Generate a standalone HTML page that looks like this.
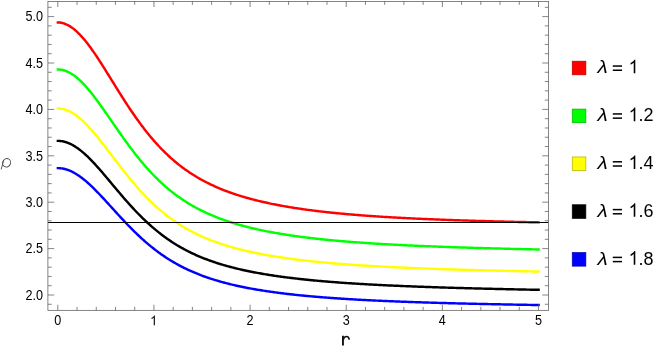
<!DOCTYPE html><html><head><meta charset="utf-8"><style>html,body{margin:0;padding:0;background:#fff;}body{width:654px;height:347px;overflow:hidden;font-family:"Liberation Sans",sans-serif;}svg{display:block;will-change:transform;}text{font-family:"Liberation Sans",sans-serif;}</style></head><body>
<svg width="654" height="347" viewBox="0 0 654 347">
<rect width="654" height="347" fill="#fff"/>
<path d="M56.65,22.43 L57.65,22.43 L58.85,22.46 L60.06,22.58 L61.26,22.77 L62.46,23.03 L63.66,23.36 L64.87,23.77 L66.07,24.26 L67.27,24.81 L68.47,25.44 L69.68,26.13 L70.88,26.89 L72.08,27.72 L73.28,28.62 L74.49,29.58 L75.69,30.60 L76.89,31.69 L78.09,32.83 L79.30,34.03 L80.50,35.29 L81.70,36.60 L82.91,37.96 L84.11,39.37 L85.31,40.82 L86.51,42.32 L87.72,43.87 L88.92,45.45 L90.12,47.07 L91.32,48.73 L92.53,50.42 L93.73,52.15 L94.93,53.90 L96.13,55.68 L97.34,57.48 L98.54,59.31 L99.74,61.15 L100.94,63.02 L102.15,64.90 L103.35,66.80 L104.55,68.71 L105.75,70.63 L106.96,72.55 L108.16,74.49 L109.36,76.43 L110.57,78.37 L111.77,80.31 L112.97,82.26 L114.17,84.20 L115.38,86.14 L116.58,88.07 L117.78,90.00 L118.98,91.92 L120.19,93.83 L121.39,95.74 L122.59,97.63 L123.79,99.51 L125.00,101.38 L126.20,103.23 L127.40,105.07 L128.60,106.89 L129.81,108.70 L131.01,110.49 L132.21,112.27 L133.42,114.02 L134.62,115.75 L135.82,117.47 L137.02,119.17 L138.23,120.84 L139.43,122.50 L140.63,124.13 L141.83,125.74 L143.04,127.34 L144.24,128.91 L145.44,130.45 L146.64,131.98 L147.85,133.48 L149.05,134.96 L150.25,136.42 L151.45,137.85 L152.66,139.27 L153.86,140.66 L155.06,142.02 L156.27,143.37 L157.47,144.69 L158.67,145.99 L159.87,147.27 L161.08,148.53 L162.28,149.77 L163.48,150.98 L164.68,152.17 L165.89,153.34 L167.09,154.49 L168.29,155.62 L169.49,156.73 L170.70,157.82 L171.90,158.89 L173.10,159.94 L174.30,160.97 L175.51,161.98 L176.71,162.98 L177.91,163.95 L179.12,164.90 L180.32,165.84 L181.52,166.76 L182.72,167.66 L183.93,168.55 L185.13,169.42 L186.33,170.27 L187.53,171.10 L188.74,171.92 L189.94,172.73 L191.14,173.52 L192.34,174.29 L193.55,175.05 L194.75,175.80 L195.95,176.53 L197.15,177.24 L198.36,177.95 L199.56,178.64 L200.76,179.32 L201.97,179.98 L203.17,180.63 L204.37,181.27 L205.57,181.90 L206.78,182.52 L207.98,183.12 L209.18,183.72 L210.38,184.30 L211.59,184.87 L212.79,185.43 L213.99,185.98 L215.19,186.52 L216.40,187.06 L217.60,187.58 L218.80,188.09 L220.00,188.59 L221.21,189.09 L222.41,189.57 L223.61,190.05 L224.81,190.52 L226.02,190.98 L227.22,191.43 L228.42,191.88 L229.63,192.32 L230.83,192.75 L232.03,193.17 L233.23,193.58 L234.44,193.99 L235.64,194.39 L236.84,194.79 L238.04,195.17 L239.25,195.55 L240.45,195.93 L241.65,196.30 L242.85,196.66 L244.06,197.02 L245.26,197.37 L246.46,197.71 L247.66,198.05 L248.87,198.39 L250.07,198.72 L251.27,199.04 L252.48,199.36 L253.68,199.67 L254.88,199.98 L256.08,200.28 L257.29,200.58 L258.49,200.88 L259.69,201.17 L260.89,201.45 L262.10,201.73 L263.30,202.01 L264.50,202.28 L265.70,202.55 L266.91,202.81 L268.11,203.07 L269.31,203.33 L270.51,203.58 L271.72,203.83 L272.92,204.08 L274.12,204.32 L275.33,204.55 L276.53,204.79 L277.73,205.02 L278.93,205.25 L280.14,205.47 L281.34,205.69 L282.54,205.91 L283.74,206.12 L284.95,206.34 L286.15,206.54 L287.35,206.75 L288.55,206.95 L289.76,207.15 L290.96,207.35 L292.16,207.54 L293.36,207.74 L294.57,207.92 L295.77,208.11 L296.97,208.29 L298.17,208.48 L299.38,208.65 L300.58,208.83 L301.78,209.00 L302.99,209.18 L304.19,209.34 L305.39,209.51 L306.59,209.68 L307.80,209.84 L309.00,210.00 L310.20,210.16 L311.40,210.31 L312.61,210.47 L313.81,210.62 L315.01,210.77 L316.21,210.92 L317.42,211.06 L318.62,211.21 L319.82,211.35 L321.02,211.49 L322.23,211.63 L323.43,211.76 L324.63,211.90 L325.84,212.03 L327.04,212.16 L328.24,212.29 L329.44,212.42 L330.65,212.55 L331.85,212.67 L333.05,212.80 L334.25,212.92 L335.46,213.04 L336.66,213.16 L337.86,213.28 L339.06,213.39 L340.27,213.51 L341.47,213.62 L342.67,213.73 L343.87,213.84 L345.08,213.95 L346.28,214.06 L347.48,214.17 L348.69,214.27 L349.89,214.38 L351.09,214.48 L352.29,214.58 L353.50,214.68 L354.70,214.78 L355.90,214.88 L357.10,214.97 L358.31,215.07 L359.51,215.16 L360.71,215.26 L361.91,215.35 L363.12,215.44 L364.32,215.53 L365.52,215.62 L366.72,215.71 L367.93,215.80 L369.13,215.88 L370.33,215.97 L371.54,216.05 L372.74,216.14 L373.94,216.22 L375.14,216.30 L376.35,216.38 L377.55,216.46 L378.75,216.54 L379.95,216.62 L381.16,216.69 L382.36,216.77 L383.56,216.85 L384.76,216.92 L385.97,216.99 L387.17,217.07 L388.37,217.14 L389.57,217.21 L390.78,217.28 L391.98,217.35 L393.18,217.42 L394.38,217.49 L395.59,217.56 L396.79,217.62 L397.99,217.69 L399.20,217.75 L400.40,217.82 L401.60,217.88 L402.80,217.95 L404.01,218.01 L405.21,218.07 L406.41,218.13 L407.61,218.19 L408.82,218.25 L410.02,218.31 L411.22,218.37 L412.42,218.43 L413.63,218.49 L414.83,218.55 L416.03,218.60 L417.23,218.66 L418.44,218.71 L419.64,218.77 L420.84,218.82 L422.05,218.88 L423.25,218.93 L424.45,218.98 L425.65,219.04 L426.86,219.09 L428.06,219.14 L429.26,219.19 L430.46,219.24 L431.67,219.29 L432.87,219.34 L434.07,219.39 L435.27,219.44 L436.48,219.49 L437.68,219.53 L438.88,219.58 L440.08,219.63 L441.29,219.67 L442.49,219.72 L443.69,219.77 L444.90,219.81 L446.10,219.85 L447.30,219.90 L448.50,219.94 L449.71,219.99 L450.91,220.03 L452.11,220.07 L453.31,220.11 L454.52,220.16 L455.72,220.20 L456.92,220.24 L458.12,220.28 L459.33,220.32 L460.53,220.36 L461.73,220.40 L462.93,220.44 L464.14,220.48 L465.34,220.51 L466.54,220.55 L467.75,220.59 L468.95,220.63 L470.15,220.67 L471.35,220.70 L472.56,220.74 L473.76,220.78 L474.96,220.81 L476.16,220.85 L477.37,220.88 L478.57,220.92 L479.77,220.95 L480.97,220.99 L482.18,221.02 L483.38,221.06 L484.58,221.09 L485.78,221.12 L486.99,221.16 L488.19,221.19 L489.39,221.22 L490.59,221.25 L491.80,221.28 L493.00,221.32 L494.20,221.35 L495.41,221.38 L496.61,221.41 L497.81,221.44 L499.01,221.47 L500.22,221.50 L501.42,221.53 L502.62,221.56 L503.82,221.59 L505.03,221.62 L506.23,221.65 L507.43,221.68 L508.63,221.71 L509.84,221.74 L511.04,221.76 L512.24,221.79 L513.44,221.82 L514.65,221.85 L515.85,221.87 L517.05,221.90 L518.26,221.93 L519.46,221.96 L520.66,221.98 L521.86,222.01 L523.07,222.03 L524.27,222.06 L525.47,222.09 L526.67,222.11 L527.88,222.14 L529.08,222.16 L530.28,222.19 L531.48,222.21 L532.69,222.24 L533.89,222.26 L535.09,222.29 L536.29,222.31 L537.50,222.33 L538.70,222.36 L539.80,222.36" fill="none" stroke="#ff0000" stroke-width="2.45" stroke-linecap="butt" stroke-linejoin="round"/>
<path d="M56.65,69.45 L57.65,69.45 L58.85,69.49 L60.06,69.59 L61.26,69.76 L62.46,69.99 L63.66,70.29 L64.87,70.66 L66.07,71.09 L67.27,71.59 L68.47,72.15 L69.68,72.77 L70.88,73.46 L72.08,74.20 L73.28,75.01 L74.49,75.87 L75.69,76.79 L76.89,77.76 L78.09,78.79 L79.30,79.86 L80.50,80.99 L81.70,82.16 L82.91,83.38 L84.11,84.65 L85.31,85.95 L86.51,87.30 L87.72,88.68 L88.92,90.11 L90.12,91.56 L91.32,93.05 L92.53,94.56 L93.73,96.11 L94.93,97.68 L96.13,99.28 L97.34,100.90 L98.54,102.54 L99.74,104.19 L100.94,105.87 L102.15,107.55 L103.35,109.26 L104.55,110.97 L105.75,112.69 L106.96,114.42 L108.16,116.15 L109.36,117.89 L110.57,119.63 L111.77,121.38 L112.97,123.12 L114.17,124.86 L115.38,126.60 L116.58,128.34 L117.78,130.07 L118.98,131.79 L120.19,133.51 L121.39,135.22 L122.59,136.91 L123.79,138.60 L125.00,140.28 L126.20,141.94 L127.40,143.59 L128.60,145.23 L129.81,146.85 L131.01,148.45 L132.21,150.04 L133.42,151.62 L134.62,153.17 L135.82,154.71 L137.02,156.24 L138.23,157.74 L139.43,159.22 L140.63,160.69 L141.83,162.14 L143.04,163.56 L144.24,164.97 L145.44,166.36 L146.64,167.73 L147.85,169.08 L149.05,170.41 L150.25,171.71 L151.45,173.00 L152.66,174.27 L153.86,175.52 L155.06,176.74 L156.27,177.95 L157.47,179.14 L158.67,180.31 L159.87,181.45 L161.08,182.58 L162.28,183.69 L163.48,184.78 L164.68,185.85 L165.89,186.90 L167.09,187.93 L168.29,188.95 L169.49,189.94 L170.70,190.92 L171.90,191.88 L173.10,192.82 L174.30,193.75 L175.51,194.65 L176.71,195.54 L177.91,196.42 L179.12,197.28 L180.32,198.12 L181.52,198.94 L182.72,199.75 L183.93,200.55 L185.13,201.33 L186.33,202.09 L187.53,202.84 L188.74,203.58 L189.94,204.30 L191.14,205.01 L192.34,205.70 L193.55,206.39 L194.75,207.05 L195.95,207.71 L197.15,208.35 L198.36,208.99 L199.56,209.61 L200.76,210.21 L201.97,210.81 L203.17,211.40 L204.37,211.97 L205.57,212.54 L206.78,213.09 L207.98,213.63 L209.18,214.17 L210.38,214.69 L211.59,215.20 L212.79,215.71 L213.99,216.20 L215.19,216.69 L216.40,217.17 L217.60,217.64 L218.80,218.10 L220.00,218.55 L221.21,218.99 L222.41,219.43 L223.61,219.86 L224.81,220.28 L226.02,220.70 L227.22,221.10 L228.42,221.50 L229.63,221.89 L230.83,222.28 L232.03,222.66 L233.23,223.03 L234.44,223.40 L235.64,223.76 L236.84,224.12 L238.04,224.46 L239.25,224.81 L240.45,225.14 L241.65,225.48 L242.85,225.80 L244.06,226.12 L245.26,226.44 L246.46,226.75 L247.66,227.06 L248.87,227.36 L250.07,227.65 L251.27,227.94 L252.48,228.23 L253.68,228.51 L254.88,228.79 L256.08,229.06 L257.29,229.33 L258.49,229.60 L259.69,229.86 L260.89,230.12 L262.10,230.37 L263.30,230.62 L264.50,230.86 L265.70,231.11 L266.91,231.34 L268.11,231.58 L269.31,231.81 L270.51,232.04 L271.72,232.26 L272.92,232.48 L274.12,232.70 L275.33,232.91 L276.53,233.13 L277.73,233.33 L278.93,233.54 L280.14,233.74 L281.34,233.94 L282.54,234.14 L283.74,234.33 L284.95,234.52 L286.15,234.71 L287.35,234.90 L288.55,235.08 L289.76,235.26 L290.96,235.44 L292.16,235.62 L293.36,235.79 L294.57,235.96 L295.77,236.13 L296.97,236.29 L298.17,236.46 L299.38,236.62 L300.58,236.78 L301.78,236.94 L302.99,237.09 L304.19,237.25 L305.39,237.40 L306.59,237.55 L307.80,237.69 L309.00,237.84 L310.20,237.98 L311.40,238.12 L312.61,238.26 L313.81,238.40 L315.01,238.54 L316.21,238.67 L317.42,238.81 L318.62,238.94 L319.82,239.07 L321.02,239.19 L322.23,239.32 L323.43,239.44 L324.63,239.57 L325.84,239.69 L327.04,239.81 L328.24,239.93 L329.44,240.04 L330.65,240.16 L331.85,240.27 L333.05,240.39 L334.25,240.50 L335.46,240.61 L336.66,240.72 L337.86,240.82 L339.06,240.93 L340.27,241.03 L341.47,241.14 L342.67,241.24 L343.87,241.34 L345.08,241.44 L346.28,241.54 L347.48,241.64 L348.69,241.73 L349.89,241.83 L351.09,241.92 L352.29,242.02 L353.50,242.11 L354.70,242.20 L355.90,242.29 L357.10,242.38 L358.31,242.46 L359.51,242.55 L360.71,242.64 L361.91,242.72 L363.12,242.81 L364.32,242.89 L365.52,242.97 L366.72,243.05 L367.93,243.13 L369.13,243.21 L370.33,243.29 L371.54,243.37 L372.74,243.45 L373.94,243.52 L375.14,243.60 L376.35,243.67 L377.55,243.75 L378.75,243.82 L379.95,243.89 L381.16,243.96 L382.36,244.03 L383.56,244.10 L384.76,244.17 L385.97,244.24 L387.17,244.31 L388.37,244.38 L389.57,244.44 L390.78,244.51 L391.98,244.57 L393.18,244.64 L394.38,244.70 L395.59,244.77 L396.79,244.83 L397.99,244.89 L399.20,244.95 L400.40,245.01 L401.60,245.07 L402.80,245.13 L404.01,245.19 L405.21,245.25 L406.41,245.31 L407.61,245.36 L408.82,245.42 L410.02,245.48 L411.22,245.53 L412.42,245.59 L413.63,245.64 L414.83,245.70 L416.03,245.75 L417.23,245.80 L418.44,245.86 L419.64,245.91 L420.84,245.96 L422.05,246.01 L423.25,246.06 L424.45,246.11 L425.65,246.16 L426.86,246.21 L428.06,246.26 L429.26,246.31 L430.46,246.36 L431.67,246.40 L432.87,246.45 L434.07,246.50 L435.27,246.55 L436.48,246.59 L437.68,246.64 L438.88,246.68 L440.08,246.73 L441.29,246.77 L442.49,246.82 L443.69,246.86 L444.90,246.90 L446.10,246.95 L447.30,246.99 L448.50,247.03 L449.71,247.07 L450.91,247.12 L452.11,247.16 L453.31,247.20 L454.52,247.24 L455.72,247.28 L456.92,247.32 L458.12,247.36 L459.33,247.40 L460.53,247.44 L461.73,247.48 L462.93,247.51 L464.14,247.55 L465.34,247.59 L466.54,247.63 L467.75,247.67 L468.95,247.70 L470.15,247.74 L471.35,247.78 L472.56,247.81 L473.76,247.85 L474.96,247.88 L476.16,247.92 L477.37,247.95 L478.57,247.99 L479.77,248.02 L480.97,248.06 L482.18,248.09 L483.38,248.13 L484.58,248.16 L485.78,248.19 L486.99,248.23 L488.19,248.26 L489.39,248.29 L490.59,248.33 L491.80,248.36 L493.00,248.39 L494.20,248.42 L495.41,248.45 L496.61,248.49 L497.81,248.52 L499.01,248.55 L500.22,248.58 L501.42,248.61 L502.62,248.64 L503.82,248.67 L505.03,248.70 L506.23,248.73 L507.43,248.76 L508.63,248.79 L509.84,248.82 L511.04,248.85 L512.24,248.88 L513.44,248.91 L514.65,248.94 L515.85,248.96 L517.05,248.99 L518.26,249.02 L519.46,249.05 L520.66,249.08 L521.86,249.10 L523.07,249.13 L524.27,249.16 L525.47,249.19 L526.67,249.21 L527.88,249.24 L529.08,249.27 L530.28,249.29 L531.48,249.32 L532.69,249.35 L533.89,249.37 L535.09,249.40 L536.29,249.42 L537.50,249.45 L538.70,249.48 L539.80,249.48" fill="none" stroke="#00ff00" stroke-width="2.45" stroke-linecap="butt" stroke-linejoin="round"/>
<path d="M56.65,108.38 L57.65,108.38 L58.85,108.41 L60.06,108.51 L61.26,108.66 L62.46,108.87 L63.66,109.15 L64.87,109.48 L66.07,109.87 L67.27,110.32 L68.47,110.83 L69.68,111.39 L70.88,112.02 L72.08,112.69 L73.28,113.42 L74.49,114.20 L75.69,115.03 L76.89,115.91 L78.09,116.84 L79.30,117.82 L80.50,118.84 L81.70,119.90 L82.91,121.01 L84.11,122.16 L85.31,123.34 L86.51,124.56 L87.72,125.82 L88.92,127.10 L90.12,128.42 L91.32,129.77 L92.53,131.15 L93.73,132.55 L94.93,133.97 L96.13,135.42 L97.34,136.88 L98.54,138.37 L99.74,139.87 L100.94,141.39 L102.15,142.92 L103.35,144.46 L104.55,146.01 L105.75,147.57 L106.96,149.14 L108.16,150.71 L109.36,152.29 L110.57,153.87 L111.77,155.45 L112.97,157.03 L114.17,158.61 L115.38,160.18 L116.58,161.76 L117.78,163.32 L118.98,164.89 L120.19,166.44 L121.39,167.99 L122.59,169.53 L123.79,171.06 L125.00,172.58 L126.20,174.08 L127.40,175.58 L128.60,177.06 L129.81,178.53 L131.01,179.99 L132.21,181.43 L133.42,182.85 L134.62,184.27 L135.82,185.66 L137.02,187.04 L138.23,188.40 L139.43,189.75 L140.63,191.08 L141.83,192.39 L143.04,193.68 L144.24,194.96 L145.44,196.22 L146.64,197.46 L147.85,198.68 L149.05,199.88 L150.25,201.07 L151.45,202.24 L152.66,203.39 L153.86,204.52 L155.06,205.63 L156.27,206.72 L157.47,207.80 L158.67,208.86 L159.87,209.90 L161.08,210.92 L162.28,211.92 L163.48,212.91 L164.68,213.88 L165.89,214.83 L167.09,215.77 L168.29,216.69 L169.49,217.59 L170.70,218.48 L171.90,219.35 L173.10,220.20 L174.30,221.04 L175.51,221.86 L176.71,222.67 L177.91,223.46 L179.12,224.24 L180.32,225.00 L181.52,225.75 L182.72,226.48 L183.93,227.20 L185.13,227.91 L186.33,228.60 L187.53,229.28 L188.74,229.95 L189.94,230.60 L191.14,231.25 L192.34,231.88 L193.55,232.49 L194.75,233.10 L195.95,233.69 L197.15,234.28 L198.36,234.85 L199.56,235.41 L200.76,235.96 L201.97,236.50 L203.17,237.04 L204.37,237.56 L205.57,238.07 L206.78,238.57 L207.98,239.06 L209.18,239.55 L210.38,240.02 L211.59,240.49 L212.79,240.94 L213.99,241.39 L215.19,241.83 L216.40,242.27 L217.60,242.69 L218.80,243.11 L220.00,243.52 L221.21,243.92 L222.41,244.32 L223.61,244.71 L224.81,245.09 L226.02,245.46 L227.22,245.83 L228.42,246.19 L229.63,246.55 L230.83,246.90 L232.03,247.24 L233.23,247.58 L234.44,247.92 L235.64,248.24 L236.84,248.56 L238.04,248.88 L239.25,249.19 L240.45,249.50 L241.65,249.80 L242.85,250.09 L244.06,250.38 L245.26,250.67 L246.46,250.95 L247.66,251.23 L248.87,251.50 L250.07,251.77 L251.27,252.03 L252.48,252.29 L253.68,252.55 L254.88,252.80 L256.08,253.05 L257.29,253.29 L258.49,253.53 L259.69,253.77 L260.89,254.00 L262.10,254.23 L263.30,254.46 L264.50,254.68 L265.70,254.90 L266.91,255.11 L268.11,255.33 L269.31,255.54 L270.51,255.74 L271.72,255.95 L272.92,256.15 L274.12,256.34 L275.33,256.54 L276.53,256.73 L277.73,256.92 L278.93,257.10 L280.14,257.29 L281.34,257.47 L282.54,257.65 L283.74,257.82 L284.95,258.00 L286.15,258.17 L287.35,258.34 L288.55,258.50 L289.76,258.67 L290.96,258.83 L292.16,258.99 L293.36,259.14 L294.57,259.30 L295.77,259.45 L296.97,259.60 L298.17,259.75 L299.38,259.90 L300.58,260.04 L301.78,260.18 L302.99,260.32 L304.19,260.46 L305.39,260.60 L306.59,260.74 L307.80,260.87 L309.00,261.00 L310.20,261.13 L311.40,261.26 L312.61,261.39 L313.81,261.51 L315.01,261.63 L316.21,261.76 L317.42,261.88 L318.62,262.00 L319.82,262.11 L321.02,262.23 L322.23,262.34 L323.43,262.46 L324.63,262.57 L325.84,262.68 L327.04,262.79 L328.24,262.89 L329.44,263.00 L330.65,263.10 L331.85,263.21 L333.05,263.31 L334.25,263.41 L335.46,263.51 L336.66,263.61 L337.86,263.70 L339.06,263.80 L340.27,263.90 L341.47,263.99 L342.67,264.08 L343.87,264.17 L345.08,264.26 L346.28,264.35 L347.48,264.44 L348.69,264.53 L349.89,264.62 L351.09,264.70 L352.29,264.79 L353.50,264.87 L354.70,264.95 L355.90,265.03 L357.10,265.11 L358.31,265.19 L359.51,265.27 L360.71,265.35 L361.91,265.43 L363.12,265.50 L364.32,265.58 L365.52,265.65 L366.72,265.73 L367.93,265.80 L369.13,265.87 L370.33,265.94 L371.54,266.01 L372.74,266.08 L373.94,266.15 L375.14,266.22 L376.35,266.29 L377.55,266.35 L378.75,266.42 L379.95,266.49 L381.16,266.55 L382.36,266.61 L383.56,266.68 L384.76,266.74 L385.97,266.80 L387.17,266.86 L388.37,266.93 L389.57,266.99 L390.78,267.05 L391.98,267.10 L393.18,267.16 L394.38,267.22 L395.59,267.28 L396.79,267.33 L397.99,267.39 L399.20,267.45 L400.40,267.50 L401.60,267.56 L402.80,267.61 L404.01,267.66 L405.21,267.72 L406.41,267.77 L407.61,267.82 L408.82,267.87 L410.02,267.92 L411.22,267.97 L412.42,268.02 L413.63,268.07 L414.83,268.12 L416.03,268.17 L417.23,268.22 L418.44,268.27 L419.64,268.31 L420.84,268.36 L422.05,268.41 L423.25,268.45 L424.45,268.50 L425.65,268.54 L426.86,268.59 L428.06,268.63 L429.26,268.68 L430.46,268.72 L431.67,268.76 L432.87,268.81 L434.07,268.85 L435.27,268.89 L436.48,268.93 L437.68,268.97 L438.88,269.01 L440.08,269.05 L441.29,269.10 L442.49,269.14 L443.69,269.17 L444.90,269.21 L446.10,269.25 L447.30,269.29 L448.50,269.33 L449.71,269.37 L450.91,269.41 L452.11,269.44 L453.31,269.48 L454.52,269.52 L455.72,269.55 L456.92,269.59 L458.12,269.63 L459.33,269.66 L460.53,269.70 L461.73,269.73 L462.93,269.77 L464.14,269.80 L465.34,269.84 L466.54,269.87 L467.75,269.90 L468.95,269.94 L470.15,269.97 L471.35,270.00 L472.56,270.04 L473.76,270.07 L474.96,270.10 L476.16,270.13 L477.37,270.17 L478.57,270.20 L479.77,270.23 L480.97,270.26 L482.18,270.29 L483.38,270.32 L484.58,270.35 L485.78,270.38 L486.99,270.41 L488.19,270.44 L489.39,270.47 L490.59,270.50 L491.80,270.53 L493.00,270.56 L494.20,270.59 L495.41,270.62 L496.61,270.65 L497.81,270.68 L499.01,270.70 L500.22,270.73 L501.42,270.76 L502.62,270.79 L503.82,270.81 L505.03,270.84 L506.23,270.87 L507.43,270.90 L508.63,270.92 L509.84,270.95 L511.04,270.98 L512.24,271.00 L513.44,271.03 L514.65,271.05 L515.85,271.08 L517.05,271.11 L518.26,271.13 L519.46,271.16 L520.66,271.18 L521.86,271.21 L523.07,271.23 L524.27,271.26 L525.47,271.28 L526.67,271.31 L527.88,271.33 L529.08,271.35 L530.28,271.38 L531.48,271.40 L532.69,271.43 L533.89,271.45 L535.09,271.47 L536.29,271.50 L537.50,271.52 L538.70,271.54 L539.80,271.54" fill="none" stroke="#ffff00" stroke-width="2.45" stroke-linecap="butt" stroke-linejoin="round"/>
<path d="M56.65,140.85 L57.65,140.85 L58.85,140.88 L60.06,140.97 L61.26,141.10 L62.46,141.30 L63.66,141.55 L64.87,141.85 L66.07,142.21 L67.27,142.62 L68.47,143.08 L69.68,143.60 L70.88,144.16 L72.08,144.78 L73.28,145.44 L74.49,146.15 L75.69,146.91 L76.89,147.71 L78.09,148.56 L79.30,149.45 L80.50,150.38 L81.70,151.35 L82.91,152.35 L84.11,153.40 L85.31,154.48 L86.51,155.59 L87.72,156.73 L88.92,157.90 L90.12,159.11 L91.32,160.33 L92.53,161.59 L93.73,162.86 L94.93,164.16 L96.13,165.48 L97.34,166.81 L98.54,168.17 L99.74,169.53 L100.94,170.92 L102.15,172.31 L103.35,173.71 L104.55,175.13 L105.75,176.55 L106.96,177.98 L108.16,179.41 L109.36,180.84 L110.57,182.28 L111.77,183.72 L112.97,185.16 L114.17,186.60 L115.38,188.04 L116.58,189.47 L117.78,190.90 L118.98,192.32 L120.19,193.74 L121.39,195.15 L122.59,196.55 L123.79,197.94 L125.00,199.32 L126.20,200.70 L127.40,202.06 L128.60,203.41 L129.81,204.75 L131.01,206.08 L132.21,207.39 L133.42,208.69 L134.62,209.97 L135.82,211.24 L137.02,212.50 L138.23,213.74 L139.43,214.97 L140.63,216.18 L141.83,217.37 L143.04,218.55 L144.24,219.71 L145.44,220.86 L146.64,221.99 L147.85,223.10 L149.05,224.20 L150.25,225.28 L151.45,226.34 L152.66,227.39 L153.86,228.42 L155.06,229.43 L156.27,230.43 L157.47,231.41 L158.67,232.38 L159.87,233.32 L161.08,234.25 L162.28,235.17 L163.48,236.07 L164.68,236.95 L165.89,237.82 L167.09,238.67 L168.29,239.51 L169.49,240.33 L170.70,241.14 L171.90,241.93 L173.10,242.71 L174.30,243.47 L175.51,244.22 L176.71,244.96 L177.91,245.68 L179.12,246.39 L180.32,247.08 L181.52,247.77 L182.72,248.43 L183.93,249.09 L185.13,249.73 L186.33,250.37 L187.53,250.99 L188.74,251.59 L189.94,252.19 L191.14,252.78 L192.34,253.35 L193.55,253.91 L194.75,254.47 L195.95,255.01 L197.15,255.54 L198.36,256.06 L199.56,256.57 L200.76,257.08 L201.97,257.57 L203.17,258.05 L204.37,258.53 L205.57,258.99 L206.78,259.45 L207.98,259.90 L209.18,260.34 L210.38,260.77 L211.59,261.20 L212.79,261.62 L213.99,262.02 L215.19,262.43 L216.40,262.82 L217.60,263.21 L218.80,263.59 L220.00,263.96 L221.21,264.33 L222.41,264.69 L223.61,265.05 L224.81,265.39 L226.02,265.74 L227.22,266.07 L228.42,266.40 L229.63,266.73 L230.83,267.05 L232.03,267.36 L233.23,267.67 L234.44,267.97 L235.64,268.27 L236.84,268.57 L238.04,268.85 L239.25,269.14 L240.45,269.42 L241.65,269.69 L242.85,269.96 L244.06,270.23 L245.26,270.49 L246.46,270.74 L247.66,271.00 L248.87,271.25 L250.07,271.49 L251.27,271.73 L252.48,271.97 L253.68,272.20 L254.88,272.43 L256.08,272.66 L257.29,272.88 L258.49,273.10 L259.69,273.32 L260.89,273.53 L262.10,273.74 L263.30,273.95 L264.50,274.15 L265.70,274.35 L266.91,274.55 L268.11,274.74 L269.31,274.93 L270.51,275.12 L271.72,275.31 L272.92,275.49 L274.12,275.67 L275.33,275.85 L276.53,276.02 L277.73,276.20 L278.93,276.37 L280.14,276.54 L281.34,276.70 L282.54,276.86 L283.74,277.02 L284.95,277.18 L286.15,277.34 L287.35,277.49 L288.55,277.65 L289.76,277.80 L290.96,277.94 L292.16,278.09 L293.36,278.23 L294.57,278.38 L295.77,278.52 L296.97,278.65 L298.17,278.79 L299.38,278.92 L300.58,279.06 L301.78,279.19 L302.99,279.32 L304.19,279.44 L305.39,279.57 L306.59,279.69 L307.80,279.82 L309.00,279.94 L310.20,280.06 L311.40,280.17 L312.61,280.29 L313.81,280.41 L315.01,280.52 L316.21,280.63 L317.42,280.74 L318.62,280.85 L319.82,280.96 L321.02,281.06 L322.23,281.17 L323.43,281.27 L324.63,281.37 L325.84,281.48 L327.04,281.58 L328.24,281.67 L329.44,281.77 L330.65,281.87 L331.85,281.96 L333.05,282.06 L334.25,282.15 L335.46,282.24 L336.66,282.33 L337.86,282.42 L339.06,282.51 L340.27,282.60 L341.47,282.69 L342.67,282.77 L343.87,282.86 L345.08,282.94 L346.28,283.02 L347.48,283.10 L348.69,283.18 L349.89,283.26 L351.09,283.34 L352.29,283.42 L353.50,283.50 L354.70,283.57 L355.90,283.65 L357.10,283.72 L358.31,283.80 L359.51,283.87 L360.71,283.94 L361.91,284.01 L363.12,284.08 L364.32,284.15 L365.52,284.22 L366.72,284.29 L367.93,284.36 L369.13,284.43 L370.33,284.49 L371.54,284.56 L372.74,284.62 L373.94,284.69 L375.14,284.75 L376.35,284.81 L377.55,284.87 L378.75,284.94 L379.95,285.00 L381.16,285.06 L382.36,285.12 L383.56,285.18 L384.76,285.23 L385.97,285.29 L387.17,285.35 L388.37,285.41 L389.57,285.46 L390.78,285.52 L391.98,285.57 L393.18,285.63 L394.38,285.68 L395.59,285.74 L396.79,285.79 L397.99,285.84 L399.20,285.89 L400.40,285.94 L401.60,286.00 L402.80,286.05 L404.01,286.10 L405.21,286.15 L406.41,286.20 L407.61,286.24 L408.82,286.29 L410.02,286.34 L411.22,286.39 L412.42,286.43 L413.63,286.48 L414.83,286.53 L416.03,286.57 L417.23,286.62 L418.44,286.66 L419.64,286.71 L420.84,286.75 L422.05,286.80 L423.25,286.84 L424.45,286.88 L425.65,286.93 L426.86,286.97 L428.06,287.01 L429.26,287.05 L430.46,287.09 L431.67,287.13 L432.87,287.17 L434.07,287.21 L435.27,287.25 L436.48,287.29 L437.68,287.33 L438.88,287.37 L440.08,287.41 L441.29,287.45 L442.49,287.49 L443.69,287.53 L444.90,287.56 L446.10,287.60 L447.30,287.64 L448.50,287.67 L449.71,287.71 L450.91,287.75 L452.11,287.78 L453.31,287.82 L454.52,287.85 L455.72,287.89 L456.92,287.92 L458.12,287.96 L459.33,287.99 L460.53,288.03 L461.73,288.06 L462.93,288.09 L464.14,288.13 L465.34,288.16 L466.54,288.19 L467.75,288.23 L468.95,288.26 L470.15,288.29 L471.35,288.32 L472.56,288.35 L473.76,288.39 L474.96,288.42 L476.16,288.45 L477.37,288.48 L478.57,288.51 L479.77,288.54 L480.97,288.57 L482.18,288.60 L483.38,288.63 L484.58,288.66 L485.78,288.69 L486.99,288.72 L488.19,288.75 L489.39,288.78 L490.59,288.81 L491.80,288.84 L493.00,288.86 L494.20,288.89 L495.41,288.92 L496.61,288.95 L497.81,288.98 L499.01,289.01 L500.22,289.03 L501.42,289.06 L502.62,289.09 L503.82,289.11 L505.03,289.14 L506.23,289.17 L507.43,289.20 L508.63,289.22 L509.84,289.25 L511.04,289.27 L512.24,289.30 L513.44,289.33 L514.65,289.35 L515.85,289.38 L517.05,289.40 L518.26,289.43 L519.46,289.45 L520.66,289.48 L521.86,289.50 L523.07,289.53 L524.27,289.55 L525.47,289.58 L526.67,289.60 L527.88,289.63 L529.08,289.65 L530.28,289.68 L531.48,289.70 L532.69,289.73 L533.89,289.75 L535.09,289.77 L536.29,289.80 L537.50,289.82 L538.70,289.84 L539.80,289.84" fill="none" stroke="#000000" stroke-width="2.45" stroke-linecap="butt" stroke-linejoin="round"/>
<path d="M56.65,168.12 L57.65,168.12 L58.85,168.15 L60.06,168.22 L61.26,168.35 L62.46,168.53 L63.66,168.76 L64.87,169.04 L66.07,169.37 L67.27,169.74 L68.47,170.17 L69.68,170.64 L70.88,171.17 L72.08,171.73 L73.28,172.34 L74.49,173.00 L75.69,173.70 L76.89,174.44 L78.09,175.22 L79.30,176.03 L80.50,176.89 L81.70,177.78 L82.91,178.71 L84.11,179.67 L85.31,180.67 L86.51,181.69 L87.72,182.74 L88.92,183.82 L90.12,184.93 L91.32,186.06 L92.53,187.21 L93.73,188.39 L94.93,189.58 L96.13,190.80 L97.34,192.03 L98.54,193.27 L99.74,194.53 L100.94,195.81 L102.15,197.09 L103.35,198.38 L104.55,199.68 L105.75,200.99 L106.96,202.31 L108.16,203.63 L109.36,204.95 L110.57,206.27 L111.77,207.60 L112.97,208.93 L114.17,210.25 L115.38,211.57 L116.58,212.89 L117.78,214.21 L118.98,215.52 L120.19,216.82 L121.39,218.12 L122.59,219.41 L123.79,220.69 L125.00,221.97 L126.20,223.23 L127.40,224.49 L128.60,225.73 L129.81,226.96 L131.01,228.18 L132.21,229.39 L133.42,230.59 L134.62,231.77 L135.82,232.95 L137.02,234.10 L138.23,235.25 L139.43,236.37 L140.63,237.49 L141.83,238.59 L143.04,239.67 L144.24,240.75 L145.44,241.80 L146.64,242.84 L147.85,243.87 L149.05,244.88 L150.25,245.87 L151.45,246.85 L152.66,247.81 L153.86,248.76 L155.06,249.70 L156.27,250.61 L157.47,251.52 L158.67,252.40 L159.87,253.28 L161.08,254.13 L162.28,254.98 L163.48,255.81 L164.68,256.62 L165.89,257.42 L167.09,258.20 L168.29,258.97 L169.49,259.73 L170.70,260.47 L171.90,261.20 L173.10,261.92 L174.30,262.62 L175.51,263.31 L176.71,263.99 L177.91,264.65 L179.12,265.31 L180.32,265.95 L181.52,266.57 L182.72,267.19 L183.93,267.79 L185.13,268.39 L186.33,268.97 L187.53,269.54 L188.74,270.10 L189.94,270.65 L191.14,271.19 L192.34,271.71 L193.55,272.23 L194.75,272.74 L195.95,273.24 L197.15,273.73 L198.36,274.21 L199.56,274.68 L200.76,275.14 L201.97,275.60 L203.17,276.04 L204.37,276.48 L205.57,276.91 L206.78,277.33 L207.98,277.74 L209.18,278.15 L210.38,278.55 L211.59,278.94 L212.79,279.32 L213.99,279.70 L215.19,280.07 L216.40,280.43 L217.60,280.79 L218.80,281.14 L220.00,281.48 L221.21,281.82 L222.41,282.15 L223.61,282.48 L224.81,282.80 L226.02,283.11 L227.22,283.42 L228.42,283.73 L229.63,284.03 L230.83,284.32 L232.03,284.61 L233.23,284.89 L234.44,285.17 L235.64,285.45 L236.84,285.72 L238.04,285.98 L239.25,286.24 L240.45,286.50 L241.65,286.75 L242.85,287.00 L244.06,287.24 L245.26,287.48 L246.46,287.72 L247.66,287.95 L248.87,288.18 L250.07,288.41 L251.27,288.63 L252.48,288.84 L253.68,289.06 L254.88,289.27 L256.08,289.48 L257.29,289.68 L258.49,289.89 L259.69,290.08 L260.89,290.28 L262.10,290.47 L263.30,290.66 L264.50,290.85 L265.70,291.03 L266.91,291.21 L268.11,291.39 L269.31,291.57 L270.51,291.74 L271.72,291.91 L272.92,292.08 L274.12,292.24 L275.33,292.41 L276.53,292.57 L277.73,292.73 L278.93,292.88 L280.14,293.04 L281.34,293.19 L282.54,293.34 L283.74,293.49 L284.95,293.63 L286.15,293.77 L287.35,293.92 L288.55,294.06 L289.76,294.19 L290.96,294.33 L292.16,294.46 L293.36,294.59 L294.57,294.72 L295.77,294.85 L296.97,294.98 L298.17,295.10 L299.38,295.23 L300.58,295.35 L301.78,295.47 L302.99,295.59 L304.19,295.70 L305.39,295.82 L306.59,295.93 L307.80,296.04 L309.00,296.15 L310.20,296.26 L311.40,296.37 L312.61,296.48 L313.81,296.58 L315.01,296.69 L316.21,296.79 L317.42,296.89 L318.62,296.99 L319.82,297.09 L321.02,297.18 L322.23,297.28 L323.43,297.38 L324.63,297.47 L325.84,297.56 L327.04,297.65 L328.24,297.74 L329.44,297.83 L330.65,297.92 L331.85,298.01 L333.05,298.09 L334.25,298.18 L335.46,298.26 L336.66,298.34 L337.86,298.42 L339.06,298.51 L340.27,298.59 L341.47,298.66 L342.67,298.74 L343.87,298.82 L345.08,298.89 L346.28,298.97 L347.48,299.04 L348.69,299.12 L349.89,299.19 L351.09,299.26 L352.29,299.33 L353.50,299.40 L354.70,299.47 L355.90,299.54 L357.10,299.61 L358.31,299.68 L359.51,299.74 L360.71,299.81 L361.91,299.87 L363.12,299.94 L364.32,300.00 L365.52,300.06 L366.72,300.12 L367.93,300.19 L369.13,300.25 L370.33,300.31 L371.54,300.37 L372.74,300.42 L373.94,300.48 L375.14,300.54 L376.35,300.60 L377.55,300.65 L378.75,300.71 L379.95,300.76 L381.16,300.82 L382.36,300.87 L383.56,300.92 L384.76,300.98 L385.97,301.03 L387.17,301.08 L388.37,301.13 L389.57,301.18 L390.78,301.23 L391.98,301.28 L393.18,301.33 L394.38,301.38 L395.59,301.43 L396.79,301.48 L397.99,301.52 L399.20,301.57 L400.40,301.62 L401.60,301.66 L402.80,301.71 L404.01,301.75 L405.21,301.80 L406.41,301.84 L407.61,301.89 L408.82,301.93 L410.02,301.97 L411.22,302.01 L412.42,302.06 L413.63,302.10 L414.83,302.14 L416.03,302.18 L417.23,302.22 L418.44,302.26 L419.64,302.30 L420.84,302.34 L422.05,302.38 L423.25,302.42 L424.45,302.46 L425.65,302.49 L426.86,302.53 L428.06,302.57 L429.26,302.61 L430.46,302.64 L431.67,302.68 L432.87,302.72 L434.07,302.75 L435.27,302.79 L436.48,302.82 L437.68,302.86 L438.88,302.89 L440.08,302.93 L441.29,302.96 L442.49,302.99 L443.69,303.03 L444.90,303.06 L446.10,303.09 L447.30,303.13 L448.50,303.16 L449.71,303.19 L450.91,303.22 L452.11,303.25 L453.31,303.29 L454.52,303.32 L455.72,303.35 L456.92,303.38 L458.12,303.41 L459.33,303.44 L460.53,303.47 L461.73,303.50 L462.93,303.53 L464.14,303.56 L465.34,303.59 L466.54,303.62 L467.75,303.64 L468.95,303.67 L470.15,303.70 L471.35,303.73 L472.56,303.76 L473.76,303.78 L474.96,303.81 L476.16,303.84 L477.37,303.87 L478.57,303.89 L479.77,303.92 L480.97,303.94 L482.18,303.97 L483.38,304.00 L484.58,304.02 L485.78,304.05 L486.99,304.07 L488.19,304.10 L489.39,304.12 L490.59,304.15 L491.80,304.17 L493.00,304.20 L494.20,304.22 L495.41,304.25 L496.61,304.27 L497.81,304.30 L499.01,304.32 L500.22,304.34 L501.42,304.37 L502.62,304.39 L503.82,304.41 L505.03,304.44 L506.23,304.46 L507.43,304.48 L508.63,304.51 L509.84,304.53 L511.04,304.55 L512.24,304.57 L513.44,304.60 L514.65,304.62 L515.85,304.64 L517.05,304.66 L518.26,304.68 L519.46,304.70 L520.66,304.73 L521.86,304.75 L523.07,304.77 L524.27,304.79 L525.47,304.81 L526.67,304.83 L527.88,304.85 L529.08,304.87 L530.28,304.89 L531.48,304.91 L532.69,304.93 L533.89,304.95 L535.09,304.97 L536.29,304.99 L537.50,305.01 L538.70,305.03 L539.80,305.03" fill="none" stroke="#0000ff" stroke-width="2.45" stroke-linecap="butt" stroke-linejoin="round"/>
<line x1="47.90" y1="222.5" x2="548.60" y2="222.5" stroke="#000" stroke-width="1"/>
<g stroke="#666" stroke-width="0.8" fill="none">
<rect x="47.90" y="1.40" width="500.70" height="308.95"/>
<line x1="57.80" y1="310.35" x2="57.80" y2="304.75"/>
<line x1="57.80" y1="1.40" x2="57.80" y2="7.00"/>
<line x1="77.03" y1="310.35" x2="77.03" y2="306.90"/>
<line x1="77.03" y1="1.40" x2="77.03" y2="4.85"/>
<line x1="96.26" y1="310.35" x2="96.26" y2="306.90"/>
<line x1="96.26" y1="1.40" x2="96.26" y2="4.85"/>
<line x1="115.48" y1="310.35" x2="115.48" y2="306.90"/>
<line x1="115.48" y1="1.40" x2="115.48" y2="4.85"/>
<line x1="134.71" y1="310.35" x2="134.71" y2="306.90"/>
<line x1="134.71" y1="1.40" x2="134.71" y2="4.85"/>
<line x1="153.94" y1="310.35" x2="153.94" y2="304.75"/>
<line x1="153.94" y1="1.40" x2="153.94" y2="7.00"/>
<line x1="173.17" y1="310.35" x2="173.17" y2="306.90"/>
<line x1="173.17" y1="1.40" x2="173.17" y2="4.85"/>
<line x1="192.40" y1="310.35" x2="192.40" y2="306.90"/>
<line x1="192.40" y1="1.40" x2="192.40" y2="4.85"/>
<line x1="211.62" y1="310.35" x2="211.62" y2="306.90"/>
<line x1="211.62" y1="1.40" x2="211.62" y2="4.85"/>
<line x1="230.85" y1="310.35" x2="230.85" y2="306.90"/>
<line x1="230.85" y1="1.40" x2="230.85" y2="4.85"/>
<line x1="250.08" y1="310.35" x2="250.08" y2="304.75"/>
<line x1="250.08" y1="1.40" x2="250.08" y2="7.00"/>
<line x1="269.31" y1="310.35" x2="269.31" y2="306.90"/>
<line x1="269.31" y1="1.40" x2="269.31" y2="4.85"/>
<line x1="288.54" y1="310.35" x2="288.54" y2="306.90"/>
<line x1="288.54" y1="1.40" x2="288.54" y2="4.85"/>
<line x1="307.76" y1="310.35" x2="307.76" y2="306.90"/>
<line x1="307.76" y1="1.40" x2="307.76" y2="4.85"/>
<line x1="326.99" y1="310.35" x2="326.99" y2="306.90"/>
<line x1="326.99" y1="1.40" x2="326.99" y2="4.85"/>
<line x1="346.22" y1="310.35" x2="346.22" y2="304.75"/>
<line x1="346.22" y1="1.40" x2="346.22" y2="7.00"/>
<line x1="365.45" y1="310.35" x2="365.45" y2="306.90"/>
<line x1="365.45" y1="1.40" x2="365.45" y2="4.85"/>
<line x1="384.68" y1="310.35" x2="384.68" y2="306.90"/>
<line x1="384.68" y1="1.40" x2="384.68" y2="4.85"/>
<line x1="403.90" y1="310.35" x2="403.90" y2="306.90"/>
<line x1="403.90" y1="1.40" x2="403.90" y2="4.85"/>
<line x1="423.13" y1="310.35" x2="423.13" y2="306.90"/>
<line x1="423.13" y1="1.40" x2="423.13" y2="4.85"/>
<line x1="442.36" y1="310.35" x2="442.36" y2="304.75"/>
<line x1="442.36" y1="1.40" x2="442.36" y2="7.00"/>
<line x1="461.59" y1="310.35" x2="461.59" y2="306.90"/>
<line x1="461.59" y1="1.40" x2="461.59" y2="4.85"/>
<line x1="480.82" y1="310.35" x2="480.82" y2="306.90"/>
<line x1="480.82" y1="1.40" x2="480.82" y2="4.85"/>
<line x1="500.04" y1="310.35" x2="500.04" y2="306.90"/>
<line x1="500.04" y1="1.40" x2="500.04" y2="4.85"/>
<line x1="519.27" y1="310.35" x2="519.27" y2="306.90"/>
<line x1="519.27" y1="1.40" x2="519.27" y2="4.85"/>
<line x1="538.50" y1="310.35" x2="538.50" y2="304.75"/>
<line x1="538.50" y1="1.40" x2="538.50" y2="7.00"/>
<line x1="47.90" y1="304.28" x2="51.70" y2="304.28"/>
<line x1="548.60" y1="304.28" x2="544.80" y2="304.28"/>
<line x1="47.90" y1="295.00" x2="54.20" y2="295.00"/>
<line x1="548.60" y1="295.00" x2="542.30" y2="295.00"/>
<line x1="47.90" y1="285.72" x2="51.70" y2="285.72"/>
<line x1="548.60" y1="285.72" x2="544.80" y2="285.72"/>
<line x1="47.90" y1="276.44" x2="51.70" y2="276.44"/>
<line x1="548.60" y1="276.44" x2="544.80" y2="276.44"/>
<line x1="47.90" y1="267.16" x2="51.70" y2="267.16"/>
<line x1="548.60" y1="267.16" x2="544.80" y2="267.16"/>
<line x1="47.90" y1="257.88" x2="51.70" y2="257.88"/>
<line x1="548.60" y1="257.88" x2="544.80" y2="257.88"/>
<line x1="47.90" y1="248.60" x2="54.20" y2="248.60"/>
<line x1="548.60" y1="248.60" x2="542.30" y2="248.60"/>
<line x1="47.90" y1="239.32" x2="51.70" y2="239.32"/>
<line x1="548.60" y1="239.32" x2="544.80" y2="239.32"/>
<line x1="47.90" y1="230.04" x2="51.70" y2="230.04"/>
<line x1="548.60" y1="230.04" x2="544.80" y2="230.04"/>
<line x1="47.90" y1="220.76" x2="51.70" y2="220.76"/>
<line x1="548.60" y1="220.76" x2="544.80" y2="220.76"/>
<line x1="47.90" y1="211.48" x2="51.70" y2="211.48"/>
<line x1="548.60" y1="211.48" x2="544.80" y2="211.48"/>
<line x1="47.90" y1="202.20" x2="54.20" y2="202.20"/>
<line x1="548.60" y1="202.20" x2="542.30" y2="202.20"/>
<line x1="47.90" y1="192.92" x2="51.70" y2="192.92"/>
<line x1="548.60" y1="192.92" x2="544.80" y2="192.92"/>
<line x1="47.90" y1="183.64" x2="51.70" y2="183.64"/>
<line x1="548.60" y1="183.64" x2="544.80" y2="183.64"/>
<line x1="47.90" y1="174.36" x2="51.70" y2="174.36"/>
<line x1="548.60" y1="174.36" x2="544.80" y2="174.36"/>
<line x1="47.90" y1="165.08" x2="51.70" y2="165.08"/>
<line x1="548.60" y1="165.08" x2="544.80" y2="165.08"/>
<line x1="47.90" y1="155.80" x2="54.20" y2="155.80"/>
<line x1="548.60" y1="155.80" x2="542.30" y2="155.80"/>
<line x1="47.90" y1="146.52" x2="51.70" y2="146.52"/>
<line x1="548.60" y1="146.52" x2="544.80" y2="146.52"/>
<line x1="47.90" y1="137.24" x2="51.70" y2="137.24"/>
<line x1="548.60" y1="137.24" x2="544.80" y2="137.24"/>
<line x1="47.90" y1="127.96" x2="51.70" y2="127.96"/>
<line x1="548.60" y1="127.96" x2="544.80" y2="127.96"/>
<line x1="47.90" y1="118.68" x2="51.70" y2="118.68"/>
<line x1="548.60" y1="118.68" x2="544.80" y2="118.68"/>
<line x1="47.90" y1="109.40" x2="54.20" y2="109.40"/>
<line x1="548.60" y1="109.40" x2="542.30" y2="109.40"/>
<line x1="47.90" y1="100.12" x2="51.70" y2="100.12"/>
<line x1="548.60" y1="100.12" x2="544.80" y2="100.12"/>
<line x1="47.90" y1="90.84" x2="51.70" y2="90.84"/>
<line x1="548.60" y1="90.84" x2="544.80" y2="90.84"/>
<line x1="47.90" y1="81.56" x2="51.70" y2="81.56"/>
<line x1="548.60" y1="81.56" x2="544.80" y2="81.56"/>
<line x1="47.90" y1="72.28" x2="51.70" y2="72.28"/>
<line x1="548.60" y1="72.28" x2="544.80" y2="72.28"/>
<line x1="47.90" y1="63.00" x2="54.20" y2="63.00"/>
<line x1="548.60" y1="63.00" x2="542.30" y2="63.00"/>
<line x1="47.90" y1="53.72" x2="51.70" y2="53.72"/>
<line x1="548.60" y1="53.72" x2="544.80" y2="53.72"/>
<line x1="47.90" y1="44.44" x2="51.70" y2="44.44"/>
<line x1="548.60" y1="44.44" x2="544.80" y2="44.44"/>
<line x1="47.90" y1="35.16" x2="51.70" y2="35.16"/>
<line x1="548.60" y1="35.16" x2="544.80" y2="35.16"/>
<line x1="47.90" y1="25.88" x2="51.70" y2="25.88"/>
<line x1="548.60" y1="25.88" x2="544.80" y2="25.88"/>
<line x1="47.90" y1="16.60" x2="54.20" y2="16.60"/>
<line x1="548.60" y1="16.60" x2="542.30" y2="16.60"/>
<line x1="47.90" y1="7.32" x2="51.70" y2="7.32"/>
<line x1="548.60" y1="7.32" x2="544.80" y2="7.32"/>
</g>
<g font-size="13" fill="#000">
<text transform="translate(43 299.75) scale(0.97 1.06)" x="0" y="0" text-anchor="end">2.0</text>
<text transform="translate(43 253.35) scale(0.97 1.06)" x="0" y="0" text-anchor="end">2.5</text>
<text transform="translate(43 206.95) scale(0.97 1.06)" x="0" y="0" text-anchor="end">3.0</text>
<text transform="translate(43 160.55) scale(0.97 1.06)" x="0" y="0" text-anchor="end">3.5</text>
<text transform="translate(43 114.15) scale(0.97 1.06)" x="0" y="0" text-anchor="end">4.0</text>
<text transform="translate(43 67.75) scale(0.97 1.06)" x="0" y="0" text-anchor="end">4.5</text>
<text transform="translate(43 21.35) scale(0.97 1.06)" x="0" y="0" text-anchor="end">5.0</text>
<text transform="translate(57.80 325.3) scale(0.97 1.06)" x="0" y="0" text-anchor="middle">0</text>
<g transform="translate(153.94 325.3) scale(0.97 1.06)"><path d="M763 0H583V1147Q518 1085 412 1023Q307 961 223 930V1104Q374 1175 487 1276Q600 1377 647 1472H763Z" fill="#000" transform="translate(-3.90 0.00) scale(0.00635 -0.00635)"/></g>
<text transform="translate(250.08 325.3) scale(0.97 1.06)" x="0" y="0" text-anchor="middle">2</text>
<text transform="translate(346.22 325.3) scale(0.97 1.06)" x="0" y="0" text-anchor="middle">3</text>
<text transform="translate(442.36 325.3) scale(0.97 1.06)" x="0" y="0" text-anchor="middle">4</text>
<text transform="translate(538.50 325.3) scale(0.97 1.06)" x="0" y="0" text-anchor="middle">5</text>
</g>
<g fill="none" stroke="#111" stroke-linecap="butt"><path d="M342.95,335.8 V345.5" stroke-width="1.9"/><path d="M343.3,339.6 C343.7,337.6 345.2,336.5 346.7,336.5 C348.2,336.5 348.9,337.5 349.25,339.7" stroke-width="1.7"/></g>
<g fill="none" stroke="#444" stroke-width="0.9" stroke-linecap="round"><ellipse cx="6.6" cy="162.8" rx="3.9" ry="4.3" transform="rotate(25 6.6 162.8)"/><path d="M3.6,160.5 L1.3,169"/></g>
<rect x="572.25" y="61.20" width="13.6" height="13.6" fill="#ff0000" stroke="#b00000" stroke-width="0.7"/>
<text transform="translate(597.4 73.30) scale(1.12 1)" x="0" y="0" font-size="18.6" font-style="italic" fill="#000">λ</text>
<rect x="612.8" y="65.30" width="9.2" height="1.5" fill="#000"/><rect x="612.8" y="69.50" width="9.2" height="1.5" fill="#000"/>
<g transform="translate(0 73.30) scale(1 1.05)">
<path d="M763 0H583V1147Q518 1085 412 1023Q307 961 223 930V1104Q374 1175 487 1276Q600 1377 647 1472H763Z" fill="#000" transform="translate(628.60 0.00) scale(0.00879 -0.00879)"/>
</g>
<rect x="572.25" y="109.10" width="13.6" height="13.6" fill="#00ff00" stroke="#00b000" stroke-width="0.7"/>
<text transform="translate(597.4 121.20) scale(1.12 1)" x="0" y="0" font-size="18.6" font-style="italic" fill="#000">λ</text>
<rect x="612.8" y="113.20" width="9.2" height="1.5" fill="#000"/><rect x="612.8" y="117.40" width="9.2" height="1.5" fill="#000"/>
<g transform="translate(0 121.20) scale(1 1.05)">
<path d="M763 0H583V1147Q518 1085 412 1023Q307 961 223 930V1104Q374 1175 487 1276Q600 1377 647 1472H763Z" fill="#000" transform="translate(628.60 0.00) scale(0.00879 -0.00879)"/>
<text x="638.61" y="0" font-size="18.0" fill="#000">.2</text>
</g>
<rect x="572.25" y="156.95" width="13.6" height="13.6" fill="#ffff00" stroke="#b0b000" stroke-width="0.7"/>
<text transform="translate(597.4 169.05) scale(1.12 1)" x="0" y="0" font-size="18.6" font-style="italic" fill="#000">λ</text>
<rect x="612.8" y="161.05" width="9.2" height="1.5" fill="#000"/><rect x="612.8" y="165.25" width="9.2" height="1.5" fill="#000"/>
<g transform="translate(0 169.05) scale(1 1.05)">
<path d="M763 0H583V1147Q518 1085 412 1023Q307 961 223 930V1104Q374 1175 487 1276Q600 1377 647 1472H763Z" fill="#000" transform="translate(628.60 0.00) scale(0.00879 -0.00879)"/>
<text x="638.61" y="0" font-size="18.0" fill="#000">.4</text>
</g>
<rect x="572.25" y="204.75" width="13.6" height="13.6" fill="#000000" stroke="#000000" stroke-width="0.7"/>
<text transform="translate(597.4 216.85) scale(1.12 1)" x="0" y="0" font-size="18.6" font-style="italic" fill="#000">λ</text>
<rect x="612.8" y="208.85" width="9.2" height="1.5" fill="#000"/><rect x="612.8" y="213.05" width="9.2" height="1.5" fill="#000"/>
<g transform="translate(0 216.85) scale(1 1.05)">
<path d="M763 0H583V1147Q518 1085 412 1023Q307 961 223 930V1104Q374 1175 487 1276Q600 1377 647 1472H763Z" fill="#000" transform="translate(628.60 0.00) scale(0.00879 -0.00879)"/>
<text x="638.61" y="0" font-size="18.0" fill="#000">.6</text>
</g>
<rect x="572.25" y="252.55" width="13.6" height="13.6" fill="#0000ff" stroke="#0000b0" stroke-width="0.7"/>
<text transform="translate(597.4 264.65) scale(1.12 1)" x="0" y="0" font-size="18.6" font-style="italic" fill="#000">λ</text>
<rect x="612.8" y="256.65" width="9.2" height="1.5" fill="#000"/><rect x="612.8" y="260.85" width="9.2" height="1.5" fill="#000"/>
<g transform="translate(0 264.65) scale(1 1.05)">
<path d="M763 0H583V1147Q518 1085 412 1023Q307 961 223 930V1104Q374 1175 487 1276Q600 1377 647 1472H763Z" fill="#000" transform="translate(628.60 0.00) scale(0.00879 -0.00879)"/>
<text x="638.61" y="0" font-size="18.0" fill="#000">.8</text>
</g>
</svg></body></html>
